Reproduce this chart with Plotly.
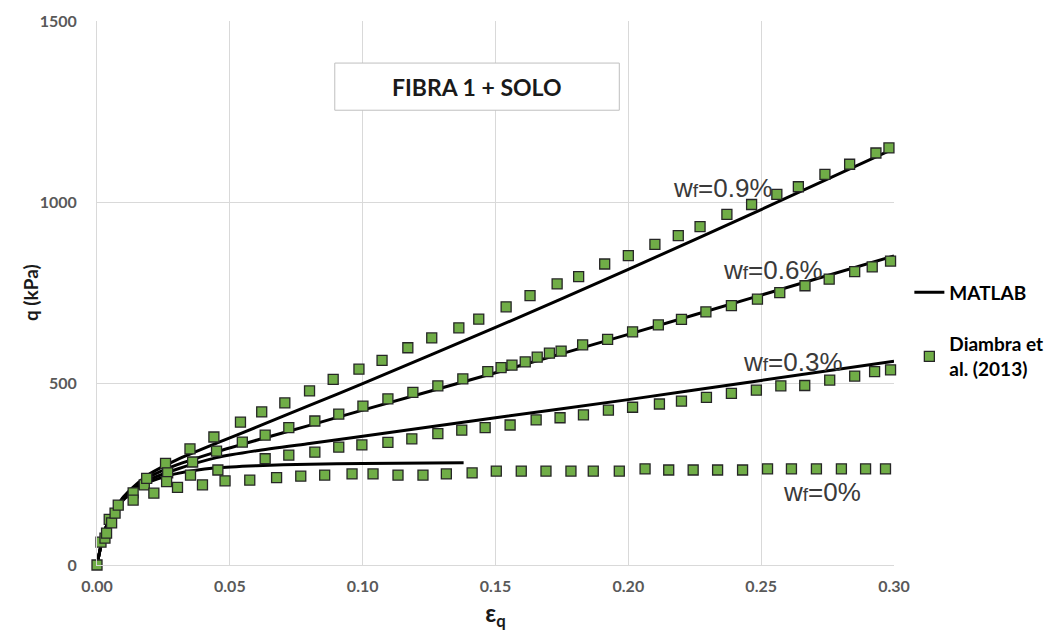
import plotly.graph_objects as go

# ---------- data ----------
# MATLAB model curves
m_x0 = [0, 0.0025, 0.005, 0.01, 0.015, 0.02, 0.03, 0.045, 0.06, 0.08, 0.10, 0.138]
m_q0 = [0, 85, 130, 180, 210, 230, 252, 268, 274, 278, 280, 282]
m_x = [0, 0.0025, 0.005, 0.01, 0.015, 0.02, 0.03, 0.045, 0.06, 0.08, 0.10, 0.15, 0.20, 0.25, 0.30]
m_q03 = [0, 85, 130, 182, 214, 236, 264, 296, 315, 335, 355, 406, 456, 509, 562]
m_q06 = [0, 85, 131, 185, 219, 244, 276, 312, 344, 385, 427, 530, 636, 744, 852]
m_q09 = [0, 86, 132, 188, 224, 252, 290, 336, 380, 440, 500, 655, 815, 980, 1148]

# Diambra et al. (2013) experimental points
d_x_init = [0, 0.0015, 0.003, 0.0036, 0.0046, 0.0055, 0.0068, 0.008, 0.0136, 0.0136, 0.0178, 0.0187]
d_q_init = [0, 63, 74, 88, 126, 116, 143, 165, 199, 179, 221, 239]

d_x09 = [0.0258, 0.035, 0.044, 0.054, 0.062, 0.0707, 0.080, 0.0889, 0.0986, 0.1073, 0.117, 0.126,
         0.1362, 0.1437, 0.154, 0.163, 0.1732, 0.1813, 0.1911, 0.200, 0.210, 0.2188, 0.227, 0.2371,
         0.2464, 0.2559, 0.264, 0.274, 0.2833, 0.2932, 0.2981]
d_q09 = [280, 320, 353, 394, 422, 447, 480, 512, 540, 564, 599, 626,
         654, 678, 712, 743, 775, 795, 830, 853, 884, 908, 933, 967,
         994, 1022, 1043, 1077, 1105, 1136, 1150]

d_x06 = [0.0266, 0.036, 0.045, 0.0547, 0.0633, 0.0722, 0.082, 0.091, 0.1001, 0.1095, 0.1189, 0.1283,
         0.1377, 0.1471, 0.1521, 0.1562, 0.1612, 0.1657, 0.1703, 0.1747, 0.1828, 0.1922, 0.2016,
         0.2113, 0.220, 0.2292, 0.2388, 0.2486, 0.257, 0.2665, 0.2756, 0.2852, 0.2918, 0.2987]
d_q06 = [254, 284, 314, 339, 358, 379, 397, 416, 438, 458, 476, 494,
         513, 533, 544, 551, 560, 573, 584, 590, 607, 622, 643,
         662, 677, 698, 715, 733, 751, 770, 788, 809, 822, 838]

d_x03 = [0.0262, 0.0352, 0.0455, 0.0633, 0.0722, 0.082, 0.091, 0.0997, 0.1095, 0.1185, 0.1283, 0.1373,
         0.1461, 0.1555, 0.1653, 0.1743, 0.1831, 0.1925, 0.2016, 0.2117, 0.220, 0.2294, 0.2388,
         0.2482, 0.2574, 0.2664, 0.2758, 0.2852, 0.2927, 0.2987]
d_q03 = [230, 248, 262, 293, 303, 311, 325, 331, 338, 348, 362, 372,
         379, 386, 400, 406, 414, 427, 435, 444, 452, 462, 473,
         482, 494, 495, 510, 521, 533, 538]

d_x0 = [0.0214, 0.0303, 0.0397, 0.0482, 0.0575, 0.0676, 0.0767, 0.0857, 0.096, 0.1039, 0.1133, 0.1227,
        0.1315, 0.1412, 0.1503, 0.1597, 0.169, 0.1784, 0.1868, 0.1966, 0.2063, 0.2152, 0.2244,
        0.2336, 0.243, 0.2524, 0.2614, 0.2708, 0.2802, 0.2893, 0.2968]
d_q0 = [198, 214, 221, 232, 234, 241, 245, 248, 251, 251, 248, 248,
        251, 254, 259, 259, 259, 259, 259, 259, 265, 262, 262,
        262, 262, 265, 265, 265, 265, 265, 265]

x_ticks = [0.00, 0.05, 0.10, 0.15, 0.20, 0.25, 0.30]
y_ticks = [0, 500, 1000, 1500]

labels = ["w<span style='font-size:19px'>f</span>=0.9%",
          "w<span style='font-size:19px'>f</span>=0.6%",
          "w<span style='font-size:19px'>f</span>=0.3%",
          "w<span style='font-size:19px'>f</span>=0%"]
label_x = [0.2357, 0.2545, 0.262, 0.273]
label_y = [1039, 813, 560, 201]

# ---------- figure ----------
fig = go.Figure()

line_style = dict(color="black", width=3, shape="spline", smoothing=0.6)
matlab = [(m_x, m_q09), (m_x, m_q06), (m_x, m_q03), (m_x0, m_q0)]
for i, (xs, qs) in enumerate(matlab):
    fig.add_trace(go.Scatter(x=xs, y=qs, mode="lines", line=line_style,
                             name="MATLAB", legendgroup="m", showlegend=(i == 0),
                             hoverinfo="skip"))

marker_style = dict(symbol="square", size=10, color="#70ad47",
                    line=dict(color="#262626", width=1.3))
exp = [(d_x_init, d_q_init), (d_x09, d_q09), (d_x06, d_q06), (d_x03, d_q03), (d_x0, d_q0)]
for i, (xs, qs) in enumerate(exp):
    fig.add_trace(go.Scatter(x=xs, y=qs, mode="markers", marker=marker_style,
                             name="Diambra et<br>al. (2013)", legendgroup="d",
                             showlegend=(i == 0), cliponaxis=False))

for t, lx, ly in zip(labels, label_x, label_y):
    fig.add_annotation(x=lx, y=ly, text=t, showarrow=False,
                       font=dict(family="Liberation Sans, Arial", size=26, color="#3a3a3a"))

# title box
fig.add_shape(type="rect", xref="x", yref="y", x0=0.0895, x1=0.1966, y0=1254, y1=1384,
              line=dict(color="#bfbfbf", width=1), fillcolor="white", layer="above")
fig.add_annotation(x=(0.0895 + 0.1966) / 2, y=1319, text="<b>FIBRA 1 + SOLO</b>",
                   showarrow=False, font=dict(family="Lato, Open Sans", size=23, color="#1a1a1a"))

# y-axis title as a rotated annotation
fig.add_annotation(xref="paper", yref="paper", x=-0.084, y=0.5, text="<b>q (kPa)</b>",
                   xanchor="center", yanchor="middle",
                   textangle=-90, showarrow=False,
                   font=dict(family="Lato, Open Sans", size=19, color="#1a1a1a"))

# page body has an 8px margin: size/margins compensate for it
fig.update_layout(
    width=1051, height=627,
    margin=dict(l=89, r=164, t=13, b=70),
    paper_bgcolor="white", plot_bgcolor="white",
    font=dict(family="Lato, Open Sans", color="#595959"),
    legend=dict(x=1.018, xanchor="left", y=0.536, yanchor="top",
                font=dict(family="Lato, Open Sans", size=19, color="black", weight="bold"),
                traceorder="grouped", tracegroupgap=24, bgcolor="rgba(0,0,0,0)"),
    xaxis=dict(range=[0, 0.30], tickvals=x_ticks, tickformat=".2f", automargin=False,
               showgrid=True, gridcolor="#d9d9d9", gridwidth=1,
               showline=True, linecolor="#d9d9d9", zeroline=False,
               ticks="", ticklabelstandoff=7,
               tickfont=dict(size=16, color="#595959", weight="bold"),
               title=dict(text="<b>ε<sub>q</sub></b>", standoff=10,
                          font=dict(size=24, color="#1a1a1a"))),
    yaxis=dict(range=[0, 1500], tickvals=y_ticks, automargin=False,
               showgrid=True, gridcolor="#d9d9d9", gridwidth=1,
               showline=True, linecolor="#d9d9d9", zeroline=False,
               ticks="", ticklabelstandoff=16,
               tickfont=dict(size=16, color="#595959", weight="bold")),
)

fig.write_html("out.html")
